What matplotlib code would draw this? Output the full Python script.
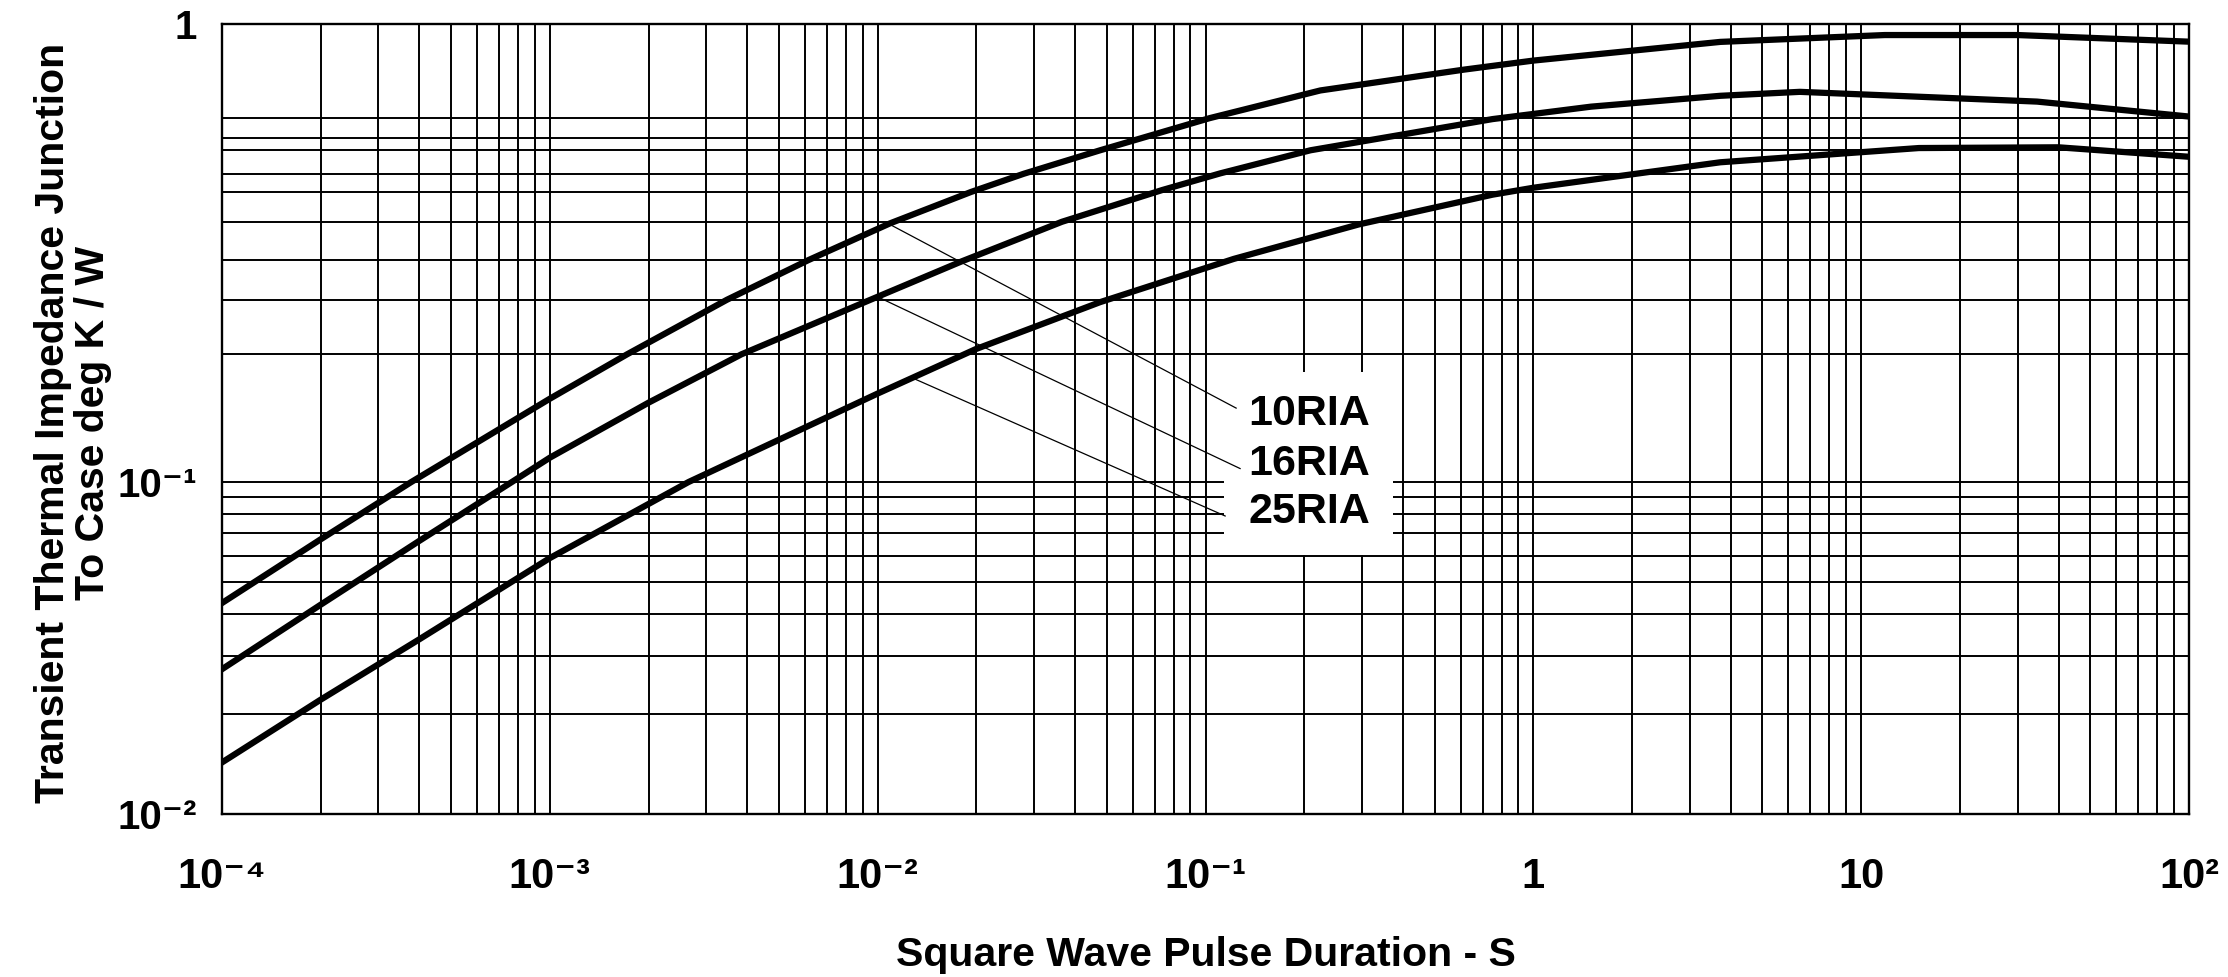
import numpy as np
import matplotlib
matplotlib.use("Agg")
import matplotlib.pyplot as plt
from matplotlib.patches import Rectangle
from matplotlib.ticker import FixedLocator, LogLocator, NullFormatter

plt.rcParams["font.family"] = ["Liberation Sans", "DejaVu Sans"]

# pulse duration (s) and transient thermal impedance (K/W)
x_10ria = [1e-4, 2e-4, 3.78e-4, 1e-3, 1.72e-3, 3.47e-3, 6.14e-3, 1.09e-2, 1.93e-2,
           2.79e-2, 4.77e-2, 0.103, 0.224, 0.614, 1.0, 3.72, 11.8, 30.0, 100.0]
z_10ria = [0.0432, 0.0672, 0.100, 0.152, 0.190, 0.250, 0.305, 0.367, 0.430,
           0.471, 0.530, 0.623, 0.716, 0.795, 0.832, 0.914, 0.946, 0.946, 0.915]

x_16ria = [1e-4, 2e-4, 4e-4, 7.66e-4, 1e-3, 2e-3, 3.84e-3, 9.51e-3, 1.80e-2,
           3.65e-2, 7.38e-2, 0.111, 0.209, 0.751, 1.5, 3.72, 6.5, 34.4, 100.0]
z_16ria = [0.0273, 0.0427, 0.0665, 0.100, 0.113, 0.149, 0.190, 0.250, 0.303,
           0.370, 0.434, 0.472, 0.530, 0.620, 0.660, 0.697, 0.711, 0.677, 0.628]

x_25ria = [1e-4, 2e-4, 4e-4, 1e-3, 2.65e-3, 1e-2, 1.99e-2, 4.77e-2, 0.122,
           0.293, 0.751, 1.0, 3.72, 15.0, 40.0, 100.0]
z_25ria = [0.0143, 0.0221, 0.0336, 0.059, 0.100, 0.156, 0.195, 0.247, 0.307,
           0.365, 0.424, 0.439, 0.499, 0.536, 0.538, 0.513]

series = [("10RIA", x_10ria, z_10ria), ("16RIA", x_16ria, z_16ria), ("25RIA", x_25ria, z_25ria)]

# label leaders: (start x, start z, end x, end z), text anchor (x, baseline z)
leaders = {
    "10RIA": ((0.0109, 0.365, 0.124, 0.145), (0.135, 0.1332)),
    "16RIA": ((0.0102, 0.252, 0.1275, 0.107), (0.135, 0.1036)),
    "25RIA": ((0.0127, 0.169, 0.1148, 0.079), (0.135, 0.0754)),
}

x_ticks = [1e-4, 1e-3, 1e-2, 1e-1, 1, 10, 100]
x_ticklabels = ["10⁻⁴", "10⁻³", "10⁻²", "10⁻¹", "1", "10", "10²"]
y_ticks = [0.01, 0.1, 1]
y_ticklabels = ["10⁻²", "10⁻¹", "1"]
# horizontal grid as printed on the sheet
y_grid = [0.02, 0.03, 0.04, 0.05, 0.06, 0.07, 0.08, 0.09,
          0.190, 0.250, 0.305, 0.370, 0.430, 0.471, 0.531, 0.564, 0.623]

# the printed y axis has unequal decades (0.01-0.1 shorter than 0.1-1)
LOW, HIGH = 332.0, 458.0


def fwd(v):
    with np.errstate(divide="ignore", invalid="ignore"):
        L = np.log10(np.maximum(v, 1e-300))
    return np.where(L <= -1, (L + 2) * LOW, LOW + (L + 1) * HIGH)


def inv(t):
    t = np.asarray(t, dtype=float)
    return np.where(t <= LOW, 10 ** (t / LOW - 2), 10 ** ((t - LOW) / HIGH - 1))


fig = plt.figure(figsize=(22.28, 9.77), dpi=100)
ax = fig.add_axes([222 / 2228, 163 / 977, 1967 / 2228, 790 / 977])

ax.set_xscale("log")
ax.set_yscale("function", functions=(fwd, inv))
ax.set_xlim(1e-4, 1e2)
ax.set_ylim(0.01, 1)

ax.xaxis.set_major_locator(FixedLocator(x_ticks))
ax.xaxis.set_minor_locator(LogLocator(base=10, subs=np.arange(2, 10), numticks=20))
ax.xaxis.set_minor_formatter(NullFormatter())
ax.set_xticklabels(x_ticklabels)
ax.yaxis.set_major_locator(FixedLocator(y_ticks))
ax.yaxis.set_minor_locator(FixedLocator(y_grid))
ax.yaxis.set_minor_formatter(NullFormatter())
ax.set_yticklabels(y_ticklabels)

ax.tick_params(which="both", length=0)
ax.tick_params(axis="x", labelsize=30, pad=31)
ax.tick_params(axis="y", labelsize=29, pad=18)
for lab in ax.get_xticklabels() + ax.get_yticklabels():
    lab.set_fontweight("bold")

ax.grid(which="both", color="black", linewidth=1.4)
ax.set_axisbelow(True)
for s in ax.spines.values():
    s.set_linewidth(1.7)
    s.set_color("black")

for name, xs, zs in series:
    ax.plot(xs, zs, color="black", linewidth=4.5, solid_joinstyle="round", zorder=3)

# white block behind the labels
ax.add_patch(Rectangle((0.1139, 0.0603), 0.3735 - 0.1139, 0.1739 - 0.0603,
                       facecolor="white", edgecolor="none", zorder=1.5))

for name, ((x0, z0, x1, z1), (tx, tz)) in leaders.items():
    ax.plot([x0, x1], [z0, z1], color="black", linewidth=0.9, zorder=2)
    ax.text(tx, tz, name, fontsize=31, fontweight="bold", ha="left", va="baseline", zorder=4)

ax.set_xlabel("Square Wave Pulse Duration - S", fontsize=29.5, fontweight="bold")
ax.xaxis.set_label_coords(0.5, -0.1544)

# two-line y title, placed line by line
fig.text(53 / 2228, 1 - 423 / 977, "Transient Thermal Impedance Junction",
         rotation=90, fontsize=29.5, fontweight="bold", ha="center", va="center")
fig.text(93 / 2228, 1 - 423 / 977, "To Case deg K / W",
         rotation=90, fontsize=29.5, fontweight="bold", ha="center", va="center")

fig.savefig("out.png", dpi=100, facecolor="white")
